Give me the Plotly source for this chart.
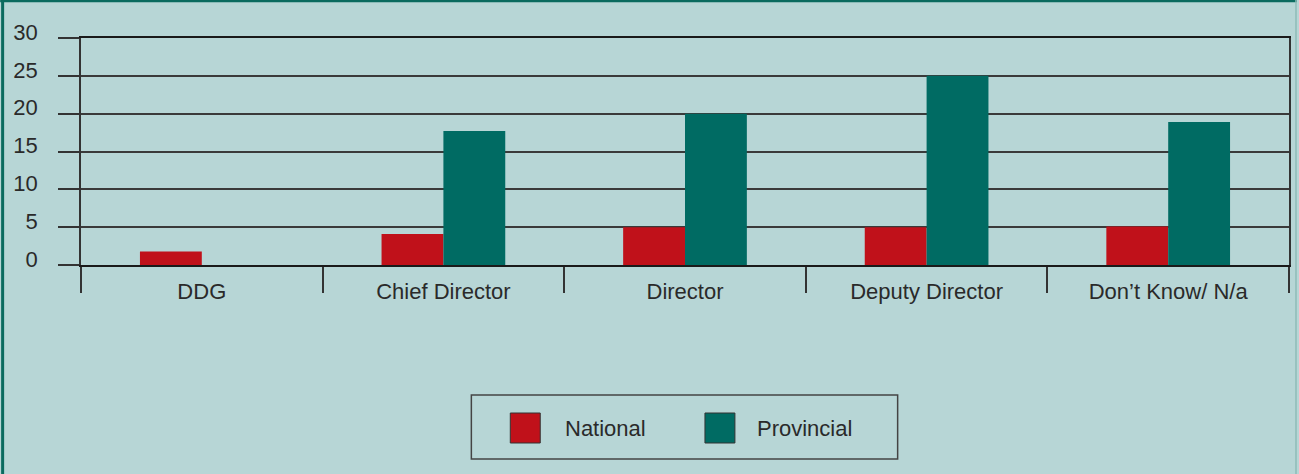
import plotly.graph_objects as go

categories = ["DDG", "Chief Director", "Director", "Deputy Director", "Don\u2019t Know/ N/a"]
national = [1.8, 4.1, 5.0, 5.0, 5.1]
provincial = [0, 17.7, 20.0, 25.0, 18.9]
series_names = ["National", "Provincial"]
y_ticks = [0, 5, 10, 15, 20, 25, 30]

RED = "#c0111a"
TEAL = "#006b63"
BG = "#b7d6d6"
TXT = "#2a2a2a"
FONT = "Liberation Sans, Arial, sans-serif"
FS = 22

W, H = 1299, 474
L, R, T, B = 81, 1291, 38, 265


def px(x):
    return (x - L) / (R - L)


def py(y):
    return (B - y) / (B - T)


fig = go.Figure()
fig.add_trace(go.Bar(x=categories, y=national, name=series_names[0], marker=dict(color=RED, line=dict(width=0))))
fig.add_trace(go.Bar(x=categories, y=provincial, name=series_names[1], marker=dict(color=TEAL, line=dict(width=0))))

shapes = [
    # outer frame (top, left, faint right)
    dict(type="line", xref="paper", yref="paper", x0=px(0), x1=px(W), y0=py(1), y1=py(1),
         line=dict(color="#0b6b5f", width=2.5), layer="above"),
    dict(type="line", xref="paper", yref="paper", x0=px(2.5), x1=px(2.5), y0=py(0), y1=py(H),
         line=dict(color="#0b6b5f", width=3), layer="above"),
    dict(type="line", xref="paper", yref="paper", x0=px(W - 1), x1=px(W - 1), y0=py(0), y1=py(H),
         line=dict(color="#8fbcb8", width=1.5), layer="above"),
    # legend box
    dict(type="rect", xref="paper", yref="paper", x0=px(472), x1=px(899), y0=py(395), y1=py(459),
         line=dict(color="#444444", width=1.5), fillcolor="rgba(0,0,0,0)"),
    dict(type="rect", xref="paper", yref="paper", x0=px(511), x1=px(541), y0=py(413), y1=py(443),
         line=dict(color="#333333", width=1), fillcolor=RED),
    dict(type="rect", xref="paper", yref="paper", x0=px(706), x1=px(736), y0=py(413), y1=py(443),
         line=dict(color="#333333", width=1), fillcolor=TEAL),
]

annotations = [
    dict(text=series_names[0], xref="paper", yref="paper", x=px(564), y=py(428), xanchor="left", yanchor="middle",
         showarrow=False, font=dict(family=FONT, size=FS, color=TXT)),
    dict(text=series_names[1], xref="paper", yref="paper", x=px(756), y=py(428), xanchor="left", yanchor="middle",
         showarrow=False, font=dict(family=FONT, size=FS, color=TXT)),
]

fig.update_layout(
    width=W, height=H,
    margin=dict(l=L, r=W - R, t=T, b=H - B, pad=0),
    paper_bgcolor=BG, plot_bgcolor=BG,
    barmode="group", bargap=0.488, bargroupgap=0,
    showlegend=False,
    font=dict(family=FONT, size=FS, color=TXT),
    shapes=shapes, annotations=annotations,
)

fig.update_xaxes(
    range=[-0.5, 4.5], tickson="boundaries", ticks="outside", ticklen=26, tickwidth=1.5, tickcolor="#333333",
    showline=True, mirror=True, linecolor="#1a1a1a", linewidth=2, showgrid=False, zeroline=False,
    ticklabelstandoff=6, tickfont=dict(family=FONT, size=FS, color=TXT),
)
fig.update_yaxes(
    range=[0, 30], tickvals=y_ticks, ticks="outside", ticklen=21, tickwidth=1.5, tickcolor="#333333",
    showgrid=True, gridcolor="#3a3a3a", gridwidth=1.5, zeroline=False,
    showline=True, mirror=True, linecolor="#333333", linewidth=1.5,
    ticklabelstandoff=16, ticklabelshift=-6, tickfont=dict(family=FONT, size=FS, color=TXT),
)

fig.write_html("out.html", config={"displayModeBar": False},
               post_script="document.body.style.margin='0';")
